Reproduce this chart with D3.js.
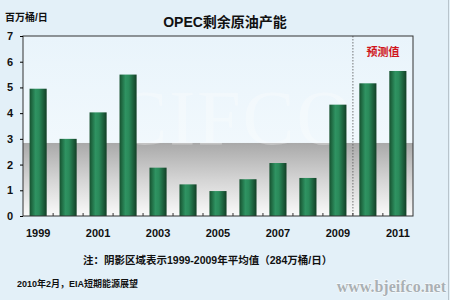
<!DOCTYPE html>
<html>
<head>
<meta charset="utf-8">
<script src="https://cdn.jsdelivr.net/npm/d3@7"></script>
<style>
  body { margin: 0; background: #e3f0f8; }
  svg { display: block; font-family: Arial, "Liberation Sans", "Noto Sans CJK SC", sans-serif; }
</style>
</head>
<body>
<svg id="chart" width="450" height="300"></svg>
<script>
// years and OPEC spare capacity (million barrels / day)
const years = ["1999","2000","2001","2002","2003","2004","2005","2006","2007","2008","2009","2010","2011"];
const spare = [4.95, 3.0, 4.03, 5.5, 1.88, 1.23, 0.97, 1.43, 2.06, 1.48, 4.33, 5.16, 5.64];
const yTicks = [0,1,2,3,4,5,6,7];
const shownYears = ["1999","2001","2003","2005","2007","2009","2011"];
const avg = 2.84; // 1999-2009 average
const forecastFrom = "2010";

const svg = d3.select("#chart");
const m = {left: 23, right: 37, top: 36, bottom: 84};
const W = 450, H = 300;

const x = d3.scaleBand().domain(years).range([m.left, W - m.right]).paddingInner(0.43).paddingOuter(0.22);
const y = d3.scaleLinear().domain([0, 7]).range([H - m.bottom, m.top]);

// gradients
const defs = svg.append("defs");
const bg = defs.append("linearGradient").attr("id", "plotbg").attr("x1", 0).attr("x2", 0).attr("y1", 0).attr("y2", 1);
bg.append("stop").attr("offset", 0).attr("stop-color", "#e9f4fb");
bg.append("stop").attr("offset", 1).attr("stop-color", "#f6fbfe");

const shade = defs.append("linearGradient").attr("id", "shade").attr("x1", 0).attr("x2", 0).attr("y1", 0).attr("y2", 1);
shade.append("stop").attr("offset", 0).attr("stop-color", "#a9a9a9");
shade.append("stop").attr("offset", 0.5).attr("stop-color", "#d4d4d4");
shade.append("stop").attr("offset", 1).attr("stop-color", "#fafafa");

const barG = defs.append("linearGradient").attr("id", "bar").attr("x1", 0).attr("x2", 1).attr("y1", 0).attr("y2", 0);
barG.append("stop").attr("offset", 0).attr("stop-color", "#16512f");
barG.append("stop").attr("offset", 0.35).attr("stop-color", "#2f9362");
barG.append("stop").attr("offset", 0.55).attr("stop-color", "#2a8a5a");
barG.append("stop").attr("offset", 1).attr("stop-color", "#123f26");

// plot area
const pw = W - m.left - m.right, ph = H - m.top - m.bottom;
svg.append("rect").attr("x", m.left).attr("y", m.top).attr("width", pw).attr("height", ph)
  .attr("fill", "url(#plotbg)");

// shaded average band
svg.append("rect").attr("x", m.left).attr("y", y(avg)).attr("width", pw).attr("height", y(0) - y(avg))
  .attr("fill", "url(#shade)");

// faint watermark
svg.append("text").attr("x", 235).attr("y", 144).attr("text-anchor", "middle")
  .attr("font-family", "Liberation Serif, serif").attr("font-size", 78)
  .attr("fill", "#ffffff").attr("opacity", 0.3).attr("letter-spacing", 2)
  .text("CIFCO");

// bars
svg.selectAll("rect.bar").data(spare).enter().append("rect")
  .attr("class", "bar")
  .attr("x", (d, i) => x(years[i]))
  .attr("y", d => y(d))
  .attr("width", x.bandwidth())
  .attr("height", d => y(0) - y(d))
  .attr("fill", "url(#bar)");

// forecast divider
const step = x.step();
const fx = x(forecastFrom) - (step - x.bandwidth()) / 2;
svg.append("line").attr("x1", fx).attr("x2", fx).attr("y1", m.top).attr("y2", y(0))
  .attr("stroke", "#555").attr("stroke-dasharray", "1.5,1.5").attr("stroke-width", 0.8);
svg.append("text").attr("x", (fx + W - m.right) / 2).attr("y", 56).attr("text-anchor", "middle")
  .attr("font-size", 11).attr("font-weight", "bold").attr("fill", "#d0161b")
  .text("预测值");

// frame
svg.append("rect").attr("x", m.left).attr("y", m.top).attr("width", pw).attr("height", ph)
  .attr("fill", "none").attr("stroke", "#333").attr("stroke-width", 1);

// y axis
const yAxis = svg.append("g").attr("transform", `translate(${m.left},0)`)
  .call(d3.axisLeft(y).tickValues(yTicks).tickFormat(d3.format("d")).tickSize(3).tickPadding(7));
yAxis.select(".domain").remove();
yAxis.selectAll("text").attr("font-size", 11).attr("font-weight", "bold").attr("fill", "#111");

// x axis: little ticks between bars, labels every other year
const bounds = years.slice(1).map(d => x(d) - (step - x.bandwidth()) / 2);
svg.selectAll("line.xt").data(bounds).enter().append("line")
  .attr("x1", d => d).attr("x2", d => d).attr("y1", y(0)).attr("y2", y(0) - 3)
  .attr("stroke", "#333");
svg.selectAll("text.xl").data(shownYears).enter().append("text")
  .attr("x", d => x(d) + x.bandwidth() / 2).attr("y", 237)
  .attr("text-anchor", "middle").attr("font-size", 11).attr("font-weight", "bold").attr("fill", "#111")
  .text(d => d);

// titles & notes
svg.append("text").attr("x", 225).attr("y", 27).attr("text-anchor", "middle")
  .attr("font-size", 14).attr("font-weight", "bold").attr("fill", "#111")
  .text("OPEC剩余原油产能");
svg.append("text").attr("x", 5).attr("y", 21).attr("font-size", 10).attr("font-weight", "bold").attr("fill", "#111")
  .text("百万桶/日");
svg.append("text").attr("x", 83).attr("y", 264).attr("font-size", 10.5).attr("font-weight", "bold").attr("fill", "#111")
  .text("注：阴影区域表示1999-2009年平均值（284万桶/日）");
svg.append("text").attr("x", 17).attr("y", 287).attr("font-size", 9).attr("font-weight", "bold").attr("fill", "#111")
  .text("2010年2月，EIA短期能源展望");

// site watermark
svg.append("text").attr("x", 446).attr("y", 292).attr("text-anchor", "end")
  .attr("font-family", "Liberation Serif, serif").attr("font-size", 16).attr("font-weight", "bold")
  .attr("fill", "#a9b0b4").attr("stroke", "#ffffff").attr("stroke-width", 0.8).attr("paint-order", "stroke")
  .text("www.bjeifco.net");

// right page edge
svg.append("line").attr("x1", 448.5).attr("x2", 448.5).attr("y1", 0).attr("y2", H)
  .attr("stroke", "#b8c4cc");
</script>
</body>
</html>
